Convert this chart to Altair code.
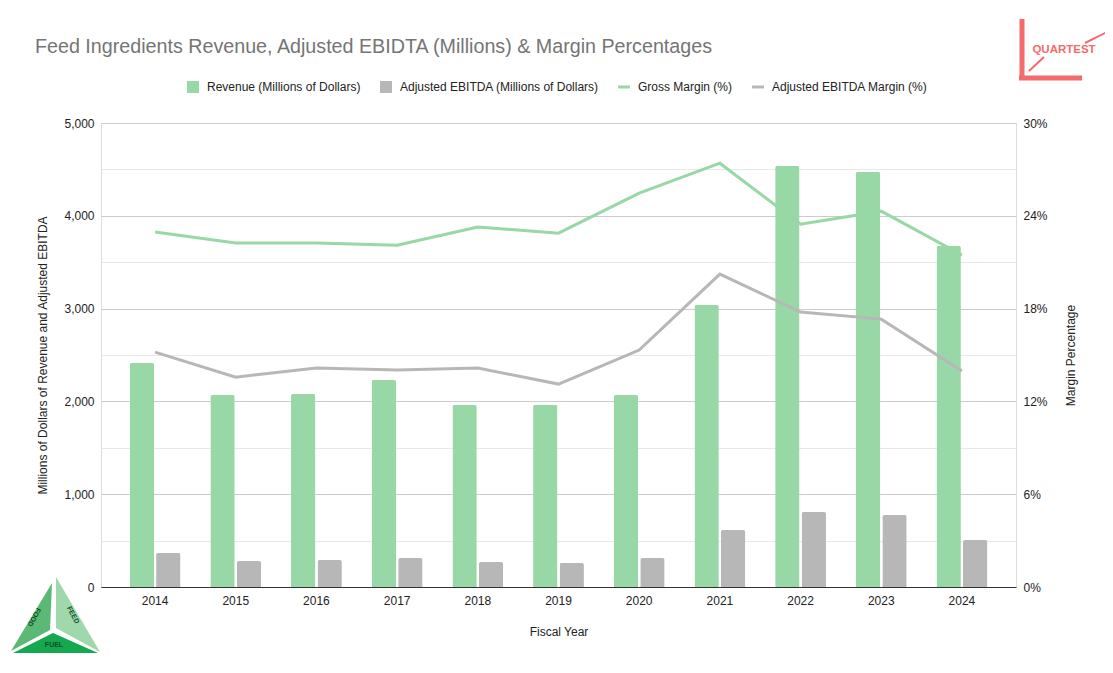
import altair as alt
import pandas as pd

years = ["2014", "2015", "2016", "2017", "2018", "2019", "2020", "2021", "2022", "2023", "2024"]
revenue = [2414, 2069, 2080, 2231, 1961, 1965, 2069, 3039, 4537, 4472, 3675]
adj_ebitda = [366, 280, 291, 312, 269, 259, 312, 614, 808, 776, 506]
gross_margin = [22.95, 22.24, 22.24, 22.10, 23.27, 22.88, 25.47, 27.40, 23.46, 24.30, 21.46]
ebitda_margin = [15.19, 13.57, 14.16, 14.03, 14.16, 13.12, 15.32, 20.23, 17.78, 17.32, 13.96]

S_REV = "Revenue (Millions of Dollars)"
S_EBT = "Adjusted EBITDA (Millions of Dollars)"
S_GM = "Gross Margin (%)"
S_EM = "Adjusted EBITDA Margin (%)"
series_names = [S_REV, S_EBT, S_GM, S_EM]
series_colors = ["#98d7a6", "#b7b7b7", "#98d7a6", "#b7b7b7"]
LINE_SYM = "M-1,-0.25H1V0.25H-1Z"
series_shapes = ["square", "square", LINE_SYM, LINE_SYM]

FONT = "Liberation Sans"

bar_df = pd.DataFrame({
    "year": years * 2,
    "series": [S_REV] * len(years) + [S_EBT] * len(years),
    "value": revenue + adj_ebitda,
})
line_df = pd.DataFrame({
    "year": years * 2,
    "series": [S_GM] * len(years) + [S_EM] * len(years),
    "value": gross_margin + ebitda_margin,
})

color_scale = alt.Scale(domain=series_names, range=series_colors)

x_enc = alt.X(
    "year:N",
    sort=years,
    scale=alt.Scale(paddingInner=0.37, paddingOuter=0.355),
    axis=alt.Axis(
        title="Fiscal Year", labelAngle=0, ticks=False, domain=True,
        domainColor="#333333", domainWidth=1, labelPadding=8, titlePadding=20,
        labelFontSize=12, titleFontSize=12, labelColor="#222222", titleColor="#222222",
        labelFont=FONT, titleFont=FONT, titleFontWeight="normal", grid=False,
    ),
)

bars = alt.Chart(bar_df).mark_bar(cornerRadiusTopLeft=2, cornerRadiusTopRight=2).encode(
    x=x_enc,
    xOffset=alt.XOffset("series:N", sort=[S_REV, S_EBT],
                        scale=alt.Scale(domain=[S_REV, S_EBT], paddingInner=0.08, paddingOuter=0)),
    y=alt.Y(
        "value:Q",
        scale=alt.Scale(domain=[0, 5000], nice=False),
        axis=alt.Axis(
            title="Millions of Dollars of Revenue and Adjusted EBITDA",
            values=list(range(0, 5001, 500)),
            labelExpr="datum.value % 1000 === 0 ? format(datum.value, ',') : ''",
            grid=True,
            gridColor={"condition": {"test": "datum.value % 1000 === 0", "value": "#cccccc"},
                       "value": "#e8e8e8"},
            ticks=False, domain=False, labelPadding=7, titlePadding=14,
            labelFontSize=12, titleFontSize=12, labelColor="#222222", titleColor="#222222",
            labelFont=FONT, titleFont=FONT, titleFontWeight="normal",
        ),
    ),
    color=alt.Color("series:N", scale=color_scale, legend=None),
)

lines = alt.Chart(line_df).mark_line(strokeWidth=3).encode(
    x=alt.X("year:N", sort=years),
    y=alt.Y(
        "value:Q",
        scale=alt.Scale(domain=[0, 30], nice=False),
        axis=alt.Axis(
            orient="right", title="Margin Percentage",
            values=[0, 6, 12, 18, 24, 30],
            labelExpr="datum.value + '%'",
            grid=False, ticks=False, domain=False, labelPadding=7, titlePadding=30,
            titleAngle=270,
            labelFontSize=12, titleFontSize=12, labelColor="#222222", titleColor="#222222",
            labelFont=FONT, titleFont=FONT, titleFontWeight="normal",
        ),
    ),
    color=alt.Color("series:N", scale=color_scale, legend=None),
)

legend_layer = alt.Chart(line_df).transform_filter("false").mark_point(filled=True, opacity=1).encode(
    x=alt.value(0),
    y=alt.value(0),
    fill=alt.Fill("series:N", scale=alt.Scale(domain=series_names, range=series_colors),
                  legend=alt.Legend(
                      orient="none", legendX=86, legendY=-42, direction="horizontal",
                      title=None, symbolSize=144, labelFontSize=12, labelColor="#222222",
                      labelFont=FONT, columnPadding=19, labelOffset=8, symbolStrokeWidth=0,
                      labelLimit=400, symbolOpacity=1,
                  )),
    shape=alt.Shape("series:N", scale=alt.Scale(domain=series_names, range=series_shapes)),
)

# Decorative logos
logo_red = "#f36b6b"
q_text = alt.Chart(pd.DataFrame({"t": ["QUARTEST"]})).mark_text(
    font=FONT, fontSize=11.5, fontWeight="bold", color=logo_red
).encode(x=alt.value(963), y=alt.value(-73), text="t:N")
q_v = alt.Chart(pd.DataFrame({"k": [1]})).mark_rule(color=logo_red, strokeWidth=5).encode(
    x=alt.value(921), y=alt.value(-104), y2=alt.value(-43))
q_h = alt.Chart(pd.DataFrame({"k": [1]})).mark_rule(color=logo_red, strokeWidth=5).encode(
    x=alt.value(918), x2=alt.value(981), y=alt.value(-45))
q_d1 = alt.Chart(pd.DataFrame({"k": [1]})).mark_rule(color=logo_red, strokeWidth=2).encode(
    x=alt.value(928), x2=alt.value(943), y=alt.value(-52), y2=alt.value(-66))
q_d2 = alt.Chart(pd.DataFrame({"k": [1]})).mark_rule(color=logo_red, strokeWidth=2).encode(
    x=alt.value(984), x2=alt.value(1006), y=alt.value(-80), y2=alt.value(-91))

tri_paths = [
    "M-0.067,-0.689L-0.978,0.822L-0.111,0.356Z",
    "M0.022,-0.822L1.0,0.844L0.022,0.311Z",
    "M-0.933,0.867L0.956,0.867L-0.044,0.422Z",
]
tri_colors = ["#5cb975", "#9fd8aa", "#14a84f"]
tri_df = pd.DataFrame({"piece": ["a", "b", "c"]})
tri = alt.Chart(tri_df).mark_point(filled=True, opacity=1, size=8100, strokeWidth=0).encode(
    x=alt.value(-46), y=alt.value(491),
    shape=alt.Shape("piece:N", scale=alt.Scale(domain=["a", "b", "c"], range=tri_paths), legend=None),
    fill=alt.Fill("piece:N", scale=alt.Scale(domain=["a", "b", "c"], range=tri_colors), legend=None),
)

fuel_txt = alt.Chart(pd.DataFrame({"t": ["FUEL"]})).mark_text(
    font=FONT, fontSize=7, fontWeight="bold", color="#0d4d24").encode(
    x=alt.value(-47), y=alt.value(522), text="t:N")
feed_txt = alt.Chart(pd.DataFrame({"t": ["FEED"]})).mark_text(
    font=FONT, fontSize=7, fontWeight="bold", color="#0d4d24", angle=62).encode(
    x=alt.value(-28), y=alt.value(492), text="t:N")
food_txt = alt.Chart(pd.DataFrame({"t": ["FOOD"]})).mark_text(
    font=FONT, fontSize=7, fontWeight="bold", color="#0d4d24", angle=118).encode(
    x=alt.value(-67), y=alt.value(494), text="t:N")

chart = alt.layer(
    bars, lines, legend_layer, q_v, q_h, q_d1, q_d2, q_text, tri, fuel_txt, feed_txt, food_txt
).resolve_scale(
    y="independent", shape="independent", fill="independent"
).properties(
    width=915, height=464,
    autosize=alt.AutoSizeParams(type="none"),
    padding={"left": 93, "top": 115, "right": 89, "bottom": 78},
    title=alt.TitleParams(
        text="Feed Ingredients Revenue, Adjusted EBIDTA (Millions) & Margin Percentages",
        anchor="start", frame="group", dx=-66, offset=10, dy=50,
        fontSize=19.7, color="#757575", font=FONT, fontWeight="normal",
    ),
).configure_view(stroke=None).configure(background="white")

chart.save("out.html", embed_options={"renderer": "svg", "actions": False})
